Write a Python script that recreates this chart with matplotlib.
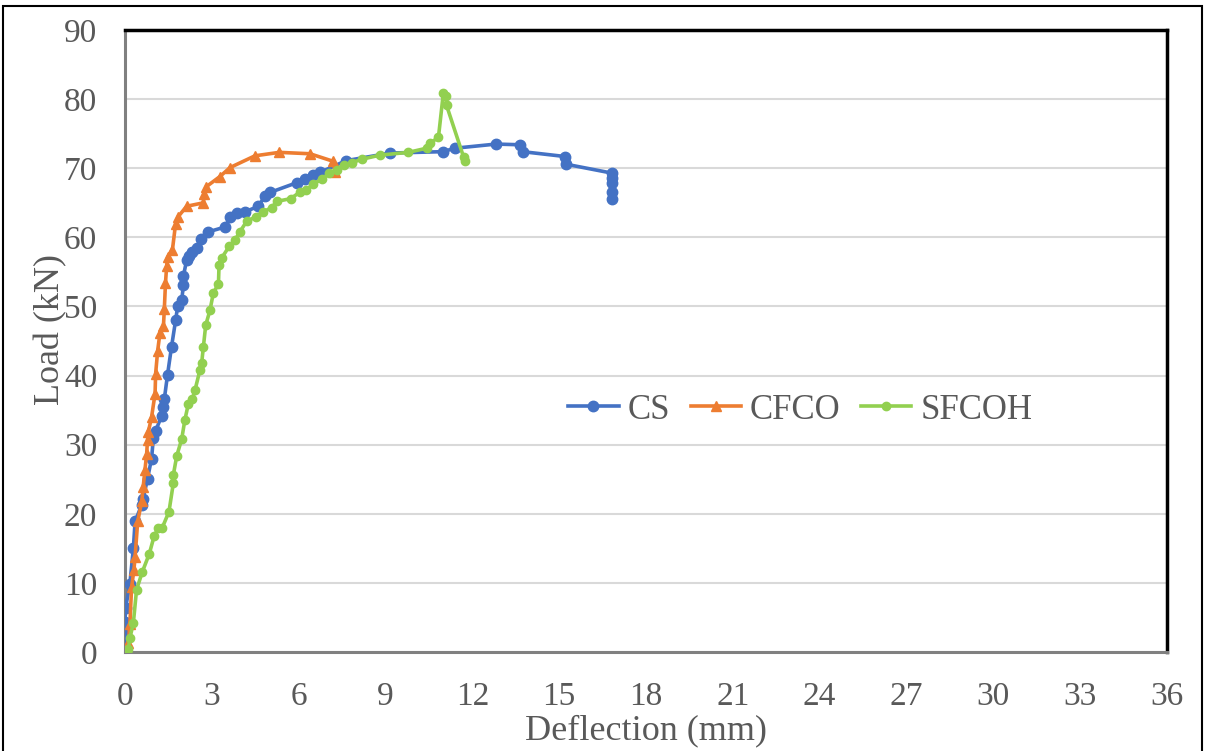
import matplotlib
matplotlib.use("Agg")
import matplotlib.pyplot as plt
from matplotlib.patches import Rectangle

# Load-deflection data (deflection in mm, load in kN)
cs_defl = [0.0, 0.0, 0.0, 0.02, 0.17, 0.29, 0.35, 0.58, 0.63, 0.78, 0.92, 0.98,
           1.06, 1.27, 1.33, 1.36, 1.47, 1.61, 1.75, 1.82, 1.96, 2.02, 2.02, 2.13,
           2.20, 2.33, 2.48, 2.63, 2.88, 3.46, 3.63, 3.86, 4.15, 4.61, 4.84, 5.01,
           5.93, 6.22, 6.51, 6.74, 7.64, 9.16, 10.98, 11.40, 12.82, 13.65, 13.74,
           15.20, 15.22, 16.82, 16.82, 16.82, 16.82, 16.82]
cs_load = [1.0, 2.5, 4.4, 6.3, 9.9, 15.0, 18.9, 21.3, 22.2, 25.1, 28.0, 30.9,
           32.0, 34.2, 35.4, 36.6, 40.1, 44.2, 48.0, 50.0, 50.9, 53.1, 54.4, 56.7,
           57.3, 57.9, 58.4, 59.8, 60.8, 61.5, 62.9, 63.5, 63.7, 64.5, 66.0, 66.5,
           67.9, 68.4, 69.0, 69.4, 71.1, 72.2, 72.4, 72.9, 73.5, 73.4, 72.4,
           71.7, 70.6, 69.3, 68.6, 67.9, 66.6, 65.6]

cfco_defl = [0.0, 0.12, 0.17, 0.23, 0.31, 0.35, 0.44, 0.58, 0.63, 0.69, 0.75, 0.78,
             0.81, 0.92, 1.04, 1.06, 1.13, 1.21, 1.33, 1.36, 1.40, 1.44, 1.47, 1.64,
             1.75, 1.84, 2.13, 2.71, 2.73, 2.80, 3.28, 3.63, 4.49, 5.33, 6.39, 7.20,
             7.26]
cfco_load = [0.0, 1.3, 4.1, 9.4, 11.9, 13.8, 18.9, 21.8, 23.9, 26.3, 28.7, 30.7,
             31.9, 34.0, 37.4, 40.3, 43.6, 46.2, 47.2, 49.6, 53.4, 55.8, 57.1, 58.2,
             62.0, 63.0, 64.5, 65.0, 66.3, 67.3, 68.8, 70.1, 71.8, 72.3, 72.1, 71.0,
             69.4]

sfcoh_defl = [0.06, 0.12, 0.17, 0.29, 0.40, 0.60, 0.84, 1.01, 1.15, 1.29, 1.52, 1.67,
              1.67, 1.79, 1.96, 2.07, 2.19, 2.33, 2.42, 2.59, 2.65, 2.71, 2.79, 2.94,
              3.05, 3.23, 3.25, 3.34, 3.60, 3.80, 3.97, 4.20, 4.53, 4.78, 5.07, 5.24,
              5.72, 6.03, 6.25, 6.49, 6.80, 7.06, 7.31, 7.57, 7.83, 8.18, 8.81, 9.79,
              10.42, 10.54, 10.83, 11.00, 11.09, 11.11, 11.70, 11.75]
sfcoh_load = [0.0, 0.5, 2.0, 4.2, 9.0, 11.6, 14.2, 16.8, 17.9, 18.0, 20.3, 24.4,
              25.6, 28.4, 30.8, 33.6, 35.9, 36.6, 37.9, 40.8, 41.8, 44.2, 47.3, 49.5,
              51.9, 53.3, 56.0, 57.0, 58.7, 59.6, 60.8, 62.3, 63.0, 63.7, 64.3, 65.2,
              65.6, 66.5, 66.8, 67.7, 68.4, 69.3, 69.8, 70.5, 70.8, 71.3, 71.9, 72.3,
              72.9, 73.6, 74.5, 80.9, 80.4, 79.1, 71.6, 71.0]

x_ticks = [0, 3, 6, 9, 12, 15, 18, 21, 24, 27, 30, 33, 36]
y_ticks = [0, 10, 20, 30, 40, 50, 60, 70, 80, 90]

plt.rcParams['font.family'] = ['Liberation Serif', 'DejaVu Serif']

fig = plt.figure(figsize=(12.05, 7.51), dpi=100)
ax = fig.add_axes([0.1037, 0.1318, 0.9685 - 0.1037, 0.96 - 0.1318])

ax.plot(cs_defl, cs_load, color='#4472C4', lw=2.6, marker='o', ms=7.5,
        label='CS', zorder=3)
ax.plot(cfco_defl, cfco_load, color='#ED7D31', lw=2.6, marker='^', ms=6.5,
        label='CFCO', zorder=4)
ax.plot(sfcoh_defl, sfcoh_load, color='#92D050', lw=2.6, marker='o', ms=6,
        label='SFCOH', zorder=5)

ax.set_xlim(0, 36)
ax.set_ylim(0, 90)
ax.set_xticks(x_ticks)
ax.set_yticks(y_ticks)
ax.grid(axis='y', color='#D9D9D9', lw=1.5)
ax.set_axisbelow(True)

ax.tick_params(axis='both', length=0, labelsize=24, colors='#595959')
ax.tick_params(axis='x', pad=21)
ax.tick_params(axis='y', pad=20)

ax.set_xlabel('Deflection (mm)', fontsize=26, color='#595959')
ax.set_ylabel('Load (kN)', fontsize=26, color='#595959')
ax.xaxis.set_label_coords(0.5, -0.1)
ax.yaxis.set_label_coords(-0.055, 0.518)

for side in ('left', 'bottom'):
    ax.spines[side].set_color('#808080')
    ax.spines[side].set_linewidth(2.2)
for side in ('top', 'right'):
    ax.spines[side].set_color('black')
    ax.spines[side].set_linewidth(2.5)

leg = ax.legend(loc='center', bbox_to_anchor=(0.648, 0.389), ncol=3, frameon=False,
                fontsize=25, handlelength=1.45, handletextpad=0.25,
                columnspacing=0.6, borderaxespad=0)
for t in leg.get_texts():
    t.set_color('#595959')

# outer chart border
fig.patches.append(Rectangle((3 / 1205, -0.02), 1199 / 1205, 1 - 6 / 751 + 0.02,
                             transform=fig.transFigure, fill=False,
                             edgecolor='black', lw=1.5))

fig.savefig('out.png', dpi=100)
